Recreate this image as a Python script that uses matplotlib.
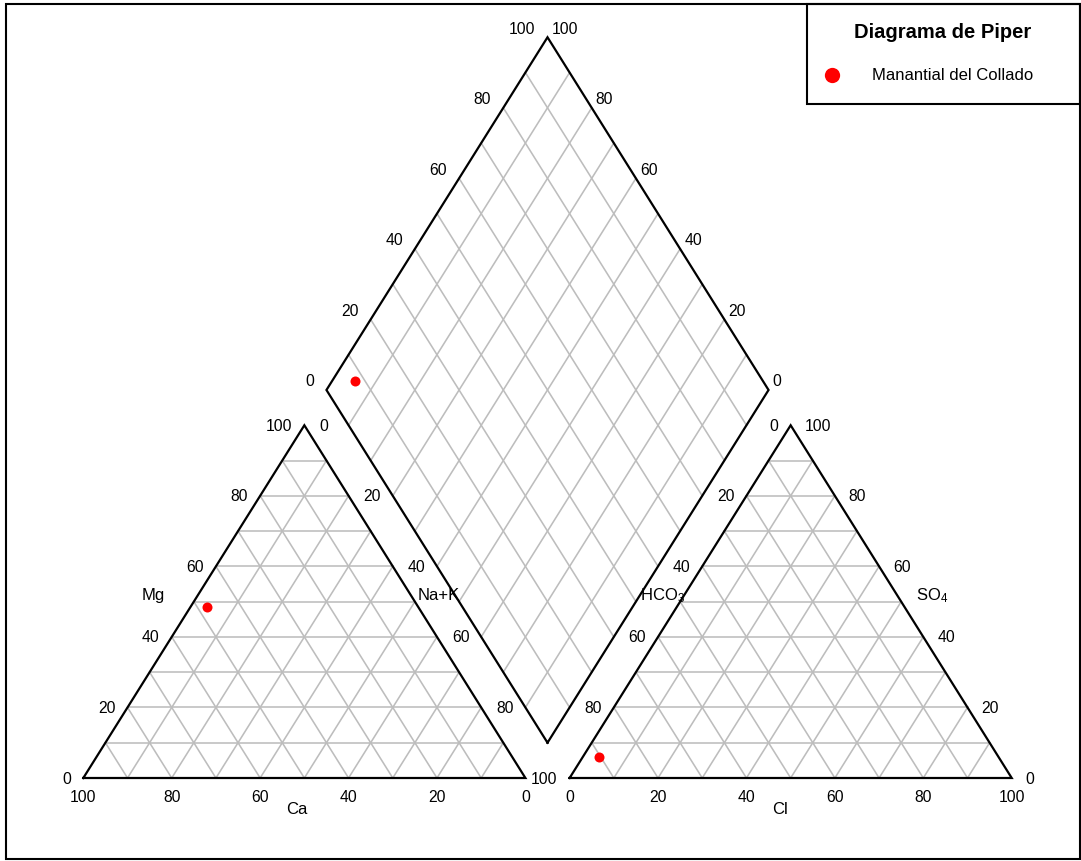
import numpy as np
import matplotlib
matplotlib.use("Agg")
import matplotlib.pyplot as plt
from matplotlib.patches import Rectangle
from matplotlib.lines import Line2D

plt.rcParams['font.family'] = ['Liberation Sans', 'DejaVu Sans']
plt.rcParams['mathtext.fontset'] = 'custom'
plt.rcParams['mathtext.rm'] = 'Liberation Sans'
plt.rcParams['mathtext.it'] = 'Liberation Sans'

# ---------------- data ----------------
sample_names = ["Manantial del Collado"]
# cation triangle (%)
ca_pct = [47.8]
mg_pct = [48.5]
nak_pct = [3.7]
# anion triangle (%)
hco3_pct = [90.4]
so4_pct = [6.0]
cl_pct = [3.6]
# projected values as placed in the diamond (%)
diamond_nak = [5.1]
diamond_clso4 = [7.7]

tick_values = [0, 20, 40, 60, 80, 100]
tick_labels = ["0", "20", "40", "60", "80", "100"]
legend_title = "Diagrama de Piper"
point_color = "#ff0000"

# ---------------- geometry ----------------
H = np.sqrt(3) / 2 * 100.0
GAP = 10.0
OFF_AN = 100.0 + GAP


def tern(off, p_right, p_top):
    p_right = np.asarray(p_right, float) / 100.0
    p_top = np.asarray(p_top, float) / 100.0
    return off + 100.0 * p_right + 50.0 * p_top, H * p_top


DB = np.array([100.0 + GAP / 2, GAP / 2 * np.sqrt(3)])   # diamond bottom vertex
DU = np.array([50.0, H])      # direction for Cl+SO4
DV = np.array([-50.0, H])     # direction for Ca+Mg


def diamond(a_pct, w_pct):
    a = np.asarray(a_pct, float) / 100.0
    w = np.asarray(w_pct, float) / 100.0
    return DB[0] + a * DU[0] + w * DV[0], DB[1] + a * DU[1] + w * DV[1]


W, Hpx = 1081, 861
fig = plt.figure(figsize=(W / 100, Hpx / 100), dpi=100)
ax = fig.add_axes([0, 0, 1, 1])
sx, sy = 4.421, 4.073
x0px, y0px = 83.3, 778.0
ax.set_xlim(-x0px / sx, (W - x0px) / sx)
ax.set_ylim(-(Hpx - y0px) / sy, y0px / sy)
ax.axis('off')

GRID = dict(color='#bdbdbd', lw=1.15, zorder=1)
EDGE = dict(color='black', lw=1.6, zorder=3, solid_joinstyle='miter')

# grid in both triangles
for off in (0.0, OFF_AN):
    for k in range(10, 100, 10):
        xa, ya = tern(off, [0, 100 - k], [k, k])
        ax.plot(xa, ya, **GRID)
        xa, ya = tern(off, [k, k], [0, 100 - k])
        ax.plot(xa, ya, **GRID)
        xa, ya = tern(off, [100 - k, 0], [0, 100 - k])
        ax.plot(xa, ya, **GRID)
    xa, ya = tern(off, [0, 100, 0, 0], [0, 0, 100, 0])
    ax.plot(xa, ya, **EDGE)

# diamond grid
for k in range(10, 100, 10):
    xa, ya = diamond([k, k], [0, 100])
    ax.plot(xa, ya, **GRID)
    xa, ya = diamond([0, 100], [k, k])
    ax.plot(xa, ya, **GRID)
xa, ya = diamond([0, 100, 100, 0, 0], [0, 0, 100, 100, 0])
ax.plot(xa, ya, **EDGE)

FS = 11.3
TK = dict(fontsize=FS, textcoords='offset pixels', color='black')
TT = dict(fontsize=12, textcoords='offset pixels', color='black')

# tick labels
for v, lab in zip(tick_values, tick_labels):
    x, y = tern(0, 0, v)
    ax.annotate(lab, (x, y), xytext=(-12, -1), ha='right', va='center', **TK)
    x, y = tern(0, 100 - v, 0)
    ax.annotate(lab, (x, y), xytext=(0, -19), ha='center', va='center', **TK)
    if v < 100:
        x, y = tern(0, v, 100 - v)
        ax.annotate(lab, (x, y), xytext=(15, -1), ha='left', va='center', **TK)
    x, y = tern(OFF_AN, 0, 100 - v)
    ax.annotate(lab, (x, y), xytext=(-12, -1), ha='right', va='center', **TK)
    x, y = tern(OFF_AN, v, 0)
    ax.annotate(lab, (x, y), xytext=(0, -19), ha='center', va='center', **TK)
    x, y = tern(OFF_AN, 100 - v, v)
    ax.annotate(lab, (x, y), xytext=(14, -1), ha='left', va='center', **TK)
    x, y = diamond(v, 100)
    ax.annotate(lab, (x, y), xytext=(-12, 8), ha='right', va='center', **TK)
    x, y = diamond(100, v)
    ax.annotate(lab, (x, y), xytext=(4, 8), ha='left', va='center', **TK)

# axis titles
x, y = tern(0, 0, 50)
ax.annotate("Mg", (x, y), xytext=(-29, 6), ha='right', va='center', **TT)
x, y = tern(0, 50, 0)
ax.annotate("Ca", (x, y), xytext=(-8, -32), ha='center', va='center', **TT)
x, y = tern(0, 50, 50)
ax.annotate("Na+K", (x, y), xytext=(3, 6), ha='left', va='center', **TT)
x, y = tern(OFF_AN, 0, 50)
ax.annotate(r"HCO$_3$", (x, y), xytext=(-40, 6), ha='left', va='center', **TT)
x, y = tern(OFF_AN, 50, 0)
ax.annotate("Cl", (x, y), xytext=(-11, -32), ha='center', va='center', **TT)
x, y = tern(OFF_AN, 50, 50)
ax.annotate(r"SO$_4$", (x, y), xytext=(15, 6), ha='left', va='center', **TT)

# data points
xc, yc = tern(0, nak_pct, mg_pct)
ax.plot(xc, yc, 'o', color=point_color, ms=7.2, mec='none', zorder=5)
xa_, ya_ = tern(OFF_AN, cl_pct, so4_pct)
ax.plot(xa_, ya_, 'o', color=point_color, ms=7.2, mec='none', zorder=5)
xd, yd = diamond(diamond_clso4, [100 - v for v in diamond_nak])
ax.plot(xd, yd, 'o', color=point_color, ms=7.2, mec='none', zorder=5)


def fx(px):
    return px / W


def fy(py):
    return 1 - py / Hpx


fig.patches.append(Rectangle((fx(6), fy(859)), fx(1080) - fx(6), fy(4) - fy(859),
                             transform=fig.transFigure, fill=False,
                             ec='black', lw=1.5, zorder=10))
fig.patches.append(Rectangle((fx(807), fy(104)), fx(1080) - fx(807), fy(4) - fy(104),
                             transform=fig.transFigure, fill=False,
                             ec='black', lw=1.5, zorder=10))
fig.text(fx(942.5), fy(33), legend_title, fontsize=14.5, fontweight='bold',
         ha='center', va='center')
for i, name in enumerate(sample_names):
    fig.lines.append(Line2D([fx(832)], [fy(75 + 25 * i)], marker='o', ms=11,
                            color=point_color, mec='none', transform=fig.transFigure))
    fig.text(fx(872), fy(75 + 25 * i), name, fontsize=12, ha='left', va='center')

fig.savefig("out.png", dpi=100)
